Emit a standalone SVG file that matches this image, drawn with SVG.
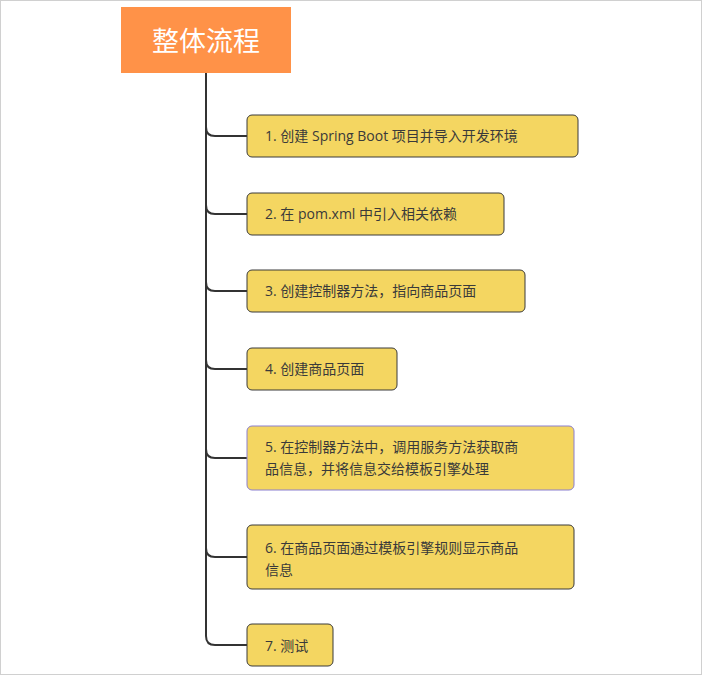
<svg xmlns="http://www.w3.org/2000/svg" width="702" height="675" viewBox="0 0 702 675">
<style>
.n rect{fill:#f4d661;stroke:#3a3a3a;stroke-width:1}
.n text{font-family:"Open Sans","Noto Sans CJK SC",sans-serif;font-size:14px;fill:#3a3a3a}
#connectors path{fill:none;stroke:#333;stroke-width:2}
</style>
<rect x="0.5" y="0.5" width="701" height="674" fill="#fff" stroke="#d0d0d0"/>
<g id="connectors">
<path d="M206 73 V636 Q206 645 215 645 H247"/>
<path d="M206 127 Q206 136 215 136 H247"/>
<path d="M206 205 Q206 214 215 214 H247"/>
<path d="M206 282 Q206 291 215 291 H247"/>
<path d="M206 360 Q206 369 215 369 H247"/>
<path d="M206 449 Q206 458 215 458 H247"/>
<path d="M206 548 Q206 557 215 557 H247"/>
</g>
<g id="root"><rect x="121" y="7" width="170" height="66" fill="#ff9248"/>
<text x="206" y="51" text-anchor="middle" font-family="Noto Sans CJK SC,sans-serif" font-size="27" fill="#fff">整体流程</text></g>
<g id="n1" class="n"><rect x="247" y="115" width="331" height="42" rx="5"/><text x="265" y="141">1. 创建 Spring Boot 项目并导入开发环境</text></g>
<g id="n2" class="n"><rect x="247" y="193" width="257" height="42" rx="5"/><text x="265" y="219">2. 在 pom.xml 中引入相关依赖</text></g>
<g id="n3" class="n"><rect x="247" y="270" width="278" height="42" rx="5"/><text x="265" y="296">3. 创建控制器方法，指向商品页面</text></g>
<g id="n4" class="n"><rect x="247" y="348" width="150" height="42" rx="5"/><text x="265" y="374">4. 创建商品页面</text></g>
<g id="n5" class="n"><rect x="247" y="426" width="327" height="64" rx="5" style="stroke:#8a7fd0"/><text x="265" y="452">5. 在控制器方法中，调用服务方法获取商</text><text x="265" y="474">品信息，并将信息交给模板引擎处理</text></g>
<g id="n6" class="n"><rect x="247" y="525" width="327" height="64" rx="5"/><text x="265" y="553">6. 在商品页面通过模板引擎规则显示商品</text><text x="265" y="575">信息</text></g>
<g id="n7" class="n"><rect x="247" y="624" width="86" height="42" rx="5"/><text x="265" y="651">7. 测试</text></g>
</svg>
